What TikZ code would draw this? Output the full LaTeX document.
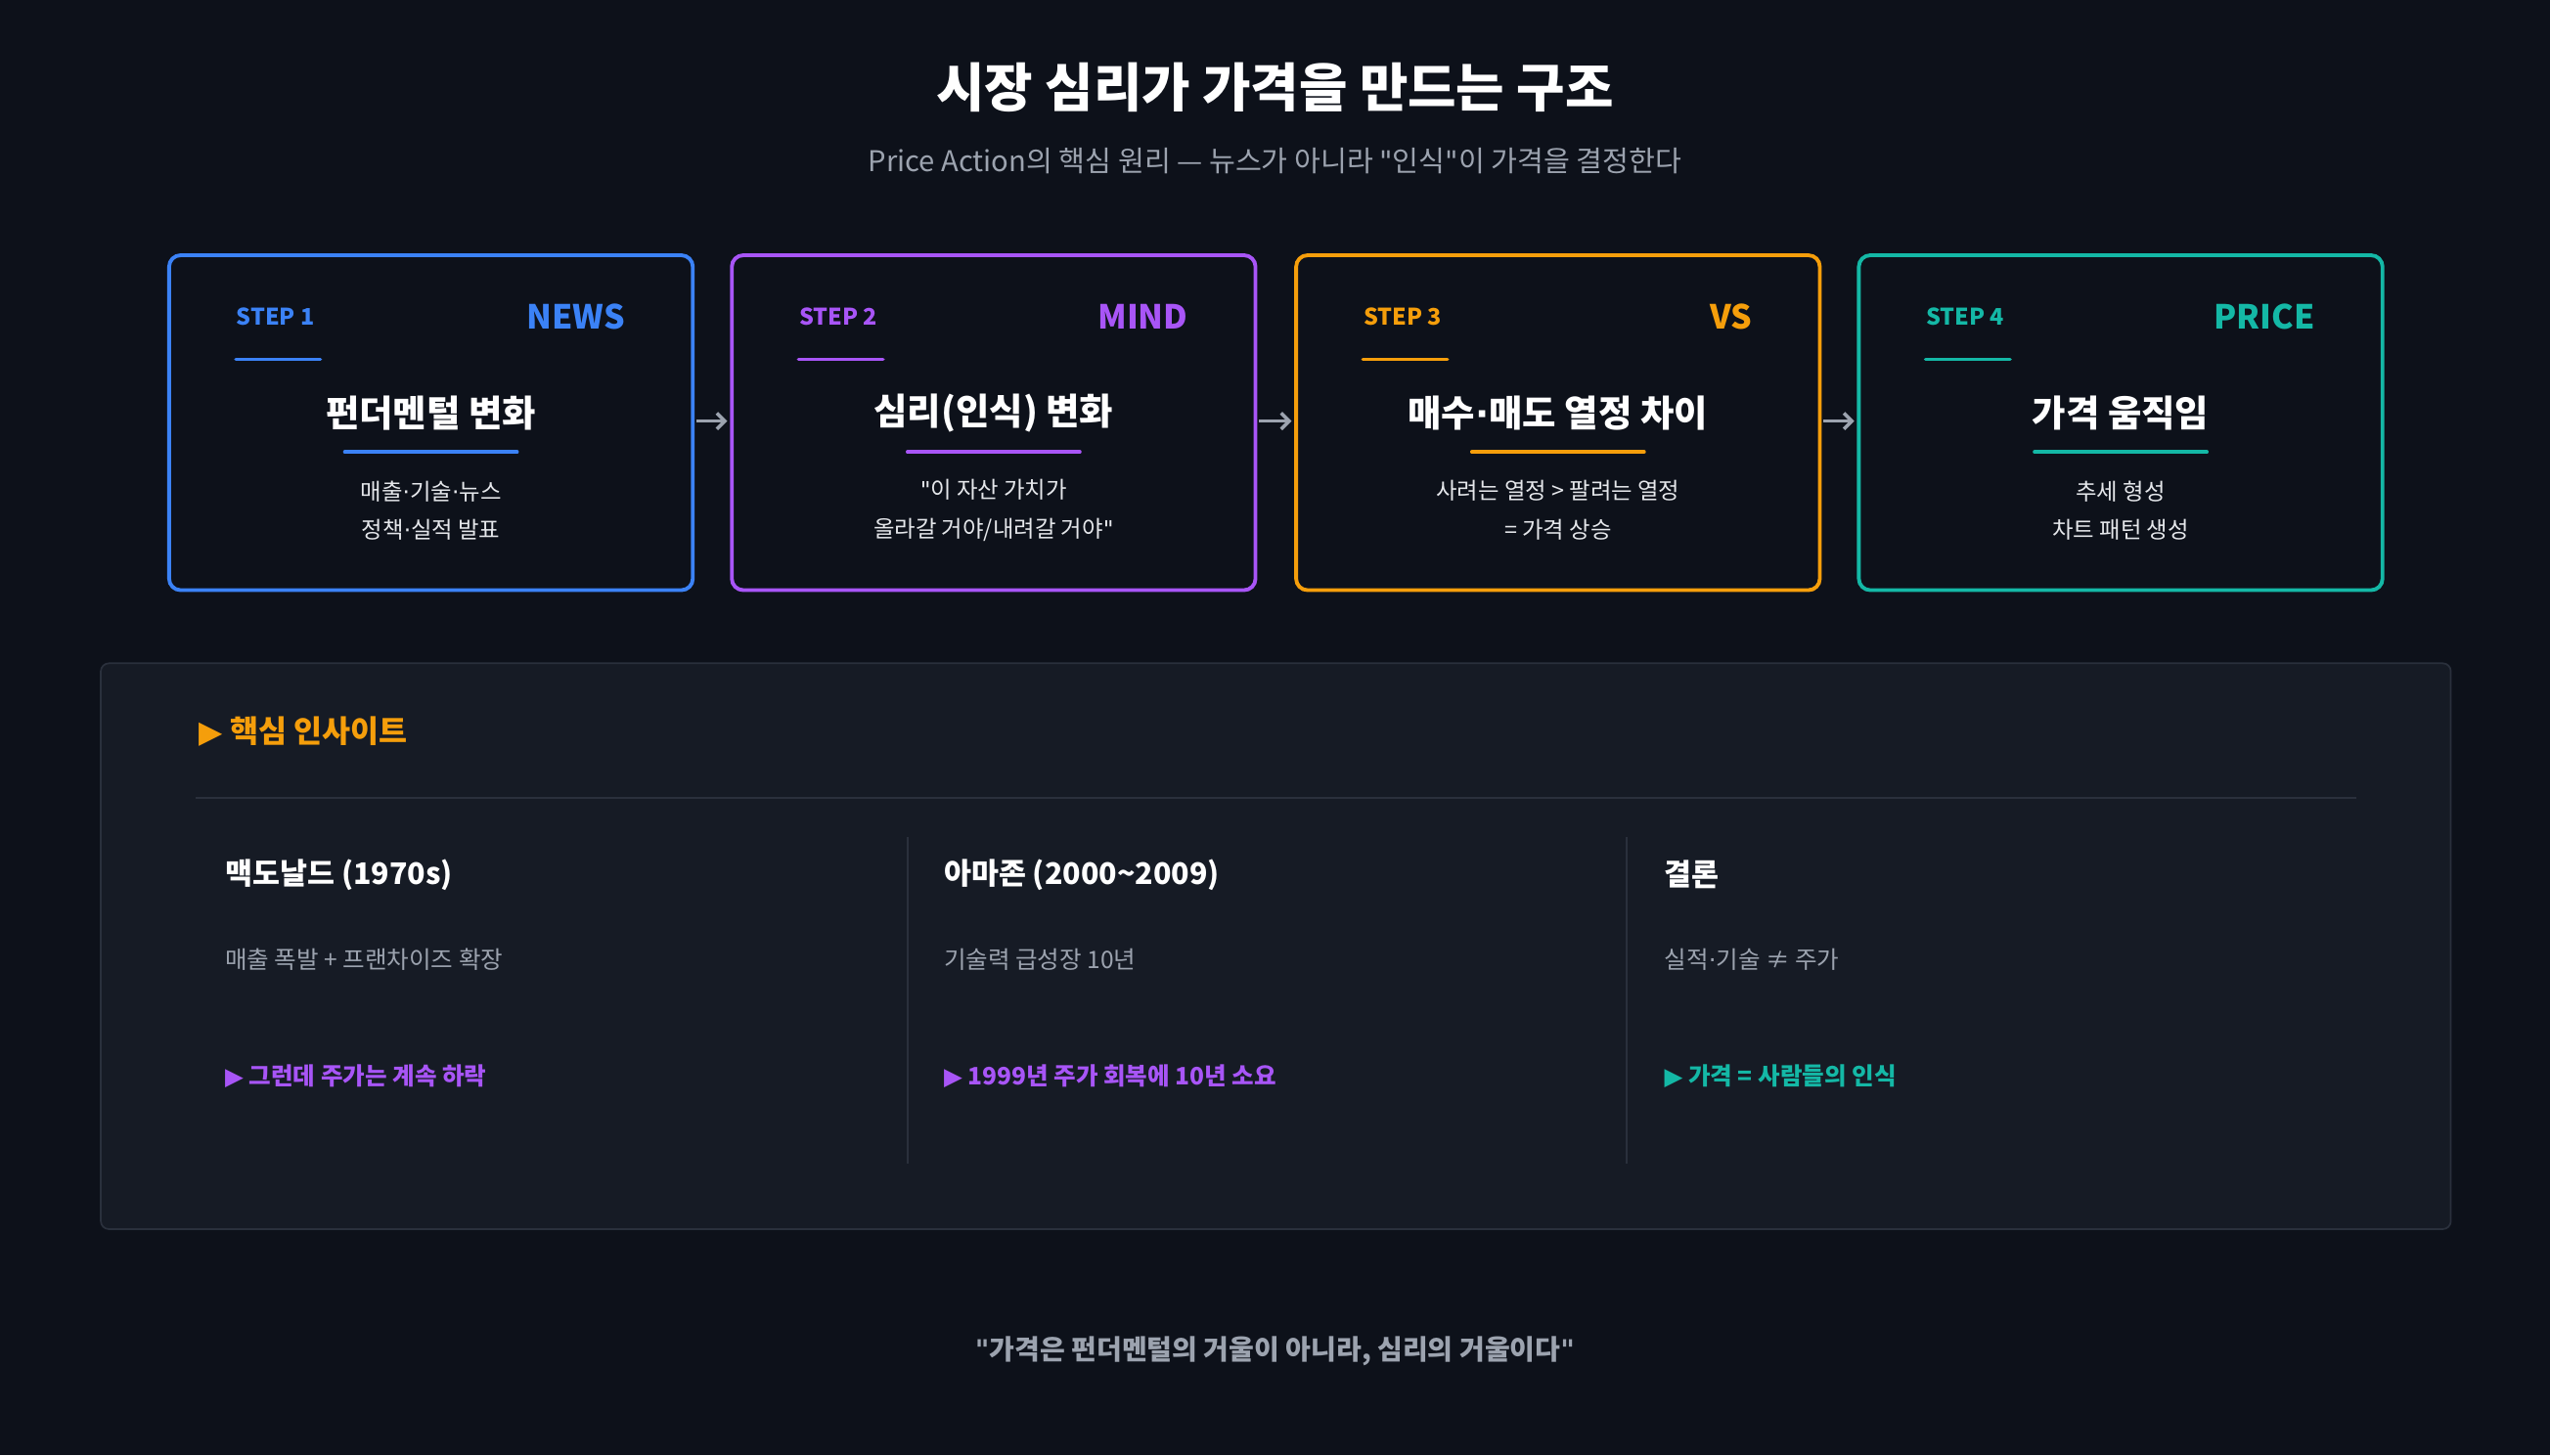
\documentclass[tikz,border=0pt]{standalone}
\usepackage{fontspec}
\setmainfont{Noto Sans CJK KR}
\newfontfamily\djsym{DejaVu Sans}
\usetikzlibrary{arrows.meta}
\definecolor{bg}{HTML}{0D111A}
\definecolor{panel}{HTML}{161B25}
\definecolor{pborder}{HTML}{2A303C}
\definecolor{cblue}{HTML}{3B82F6}
\definecolor{cpurple}{HTML}{A855F7}
\definecolor{corange}{HTML}{F59E0B}
\definecolor{cteal}{HTML}{14B8A6}
\definecolor{gtext}{HTML}{9CA3AF}
\definecolor{ltext}{HTML}{E5E7EB}
\newcommand{\tri}{{\djsym\char"25B6}}
\newcommand{\q}{{\djsym\char"0022}}
\newcommand{\md}{{\djsym\char"00B7}}
\tikzset{
 stepbox/.style={draw=#1,line width=3.3pt,rounded corners=10pt},
 steplbl/.style={text=#1,font=\fontsize{20}{24}\selectfont\bfseries,anchor=west},
 taglbl/.style={text=#1,font=\fontsize{29}{32}\selectfont\bfseries,anchor=east},
 boxtitle/.style={text=white,font=\fontsize{32}{36}\selectfont\bfseries},
 desc/.style={text=ltext,font=\fontsize{20}{34}\selectfont,align=center},
 conn/.style={-{Straight Barb[length=7pt,width=14pt]},draw=gtext,line width=3pt},
 coltitle/.style={text=white,font=\fontsize{26}{30}\selectfont\bfseries,anchor=west},
 coldesc/.style={text=gtext,font=\fontsize{21}{26}\selectfont,anchor=west},
 colhi/.style={text=#1,font=\fontsize{21}{26}\selectfont\bfseries,anchor=west},
}
\begin{document}
\begin{tikzpicture}[x=0.05cm,y=-0.05cm]
\fill[bg] (0,0) rectangle (1568,895);
\useasboundingbox (0,0) rectangle (1568,895);
\node (title) [text=white,font=\fontsize{46}{50}\selectfont\bfseries] at (784,54) {시장 심리가 가격을 만드는 구조};
\node (sub) [text=gtext,font=\fontsize{25}{28}\selectfont] at (784,99) {Price Action의 핵심 원리 — 뉴스가 아니라 \q 인식\q 이 가격을 결정한다};
% boxes
\foreach \i/\x/\c/\tag/\t/\da/\db in {
 1/104/cblue/NEWS/펀더멘털 변화/매출\md 기술\md 뉴스/정책\md 실적 발표,
 2/450/cpurple/MIND/심리(인식) 변화/{\q 이 자산 가치가}/{올라갈 거야/내려갈 거야\q},
 3/797/corange/VS/매수\md 매도 열정 차이/사려는 열정 > 팔려는 열정/= 가격 상승,
 4/1143/cteal/PRICE/가격 움직임/추세 형성/차트 패턴 생성}{
 \draw[stepbox=\c] (\x,157) rectangle ++(322,206);
 \coordinate (b\i w) at (\x,259);
 \coordinate (b\i e) at (\x+322,259);
 \node (s\i) [steplbl=\c] at (\x+39,195) {STEP \i};
 \node (g\i) [taglbl=\c] at (\x+283,195) {\tag};
 \draw[\c,line width=3pt,line cap=round] (\x+41,221) -- (\x+93,221);
 \node (t\i) [boxtitle] at (\x+161,254) {\t};
 \draw[\c,line width=3pt,line cap=round] (\x+108,278) -- (\x+214,278);
 \node (d\i) [desc] at (\x+161,314) {\da\\\db};
}
\draw[conn,shorten <=3pt,shorten >=4pt] (b1e) -- (b2w);
\draw[conn,shorten <=3pt,shorten >=4pt] (b2e) -- (b3w);
\draw[conn,shorten <=3pt,shorten >=4pt] (b3e) -- (b4w);
% panel
\draw[fill=panel,draw=pborder,line width=1.5pt,rounded corners=7pt] (62,408) rectangle (1507,756);
\node (hd) [text=corange,font=\fontsize{27}{30}\selectfont\bfseries,anchor=west] at (120,450) {\tri\ 핵심 인사이트};
\draw[pborder,line width=1.5pt] (120,491) -- (1449,491);
\draw[pborder,line width=1.5pt] (558,515) -- (558,716);
\draw[pborder,line width=1.5pt] (1000,515) -- (1000,716);
\node (c1t) [coltitle] at (136,538) {맥도날드 (1970s)};
\node (c1d) [coldesc] at (136,590) {매출 폭발 + 프랜차이즈 확장};
\node (c1h) [colhi=cpurple] at (136,662) {\tri\ 그런데 주가는 계속 하락};
\node (c2t) [coltitle] at (578,538) {아마존 (2000\textasciitilde2009)};
\node (c2d) [coldesc] at (578,590) {기술력 급성장 10년};
\node (c2h) [colhi=cpurple] at (578,662) {\tri\ 1999년 주가 회복에 10년 소요};
\node (c3t) [coltitle] at (1021,538) {결론};
\node (c3d) [coldesc] at (1021,590) {실적\md 기술 ≠ 주가};
\node (c3h) [colhi=cteal] at (1021,662) {\tri\ 가격 = 사람들의 인식};
\node (ft) [text=gtext,font=\fontsize{24}{28}\selectfont\bfseries] at (784,831) {\q 가격은 펀더멘털의 거울이 아니라, 심리의 거울이다\q};
\end{tikzpicture}
\end{document}
